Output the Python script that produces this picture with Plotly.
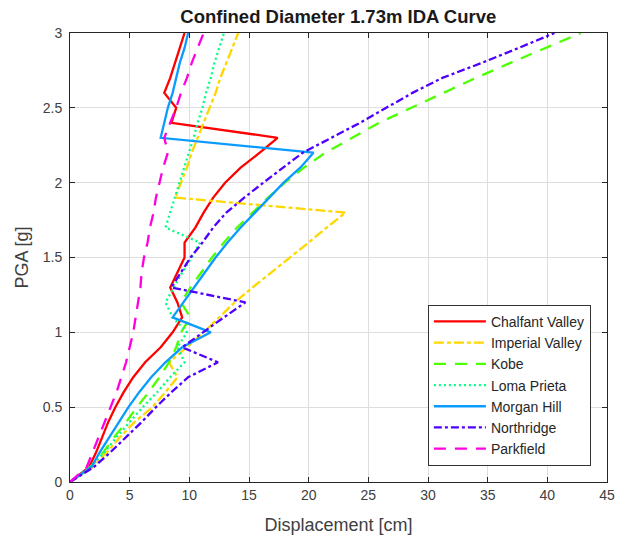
import plotly.graph_objects as go

pga = [0.0, 0.1, 0.2, 0.3, 0.4, 0.5, 0.6, 0.7, 0.8, 0.9, 1.0, 1.1, 1.2, 1.3, 1.4, 1.5,
       1.6, 1.7, 1.8, 1.9, 2.0, 2.1, 2.2, 2.3, 2.4, 2.5, 2.6, 2.7, 2.8, 2.9, 3.0]

chalfant_valley = [0, 1.6, 2.2, 2.7, 3.2, 3.8, 4.5, 5.3, 6.3, 7.6, 8.6, 9.4, 9.0, 8.4, 9.0, 9.6,
                   9.6, 10.5, 11.2, 12.0, 13.0, 14.3, 15.9, 17.4, 8.5, 8.9, 7.9, 8.4, 8.8, 9.2, 9.6]
imperial_valley = [0, 1.9, 3.1, 4.2, 5.4, 6.9, 8.0, 9.0, 8.3, 9.8, 11.2, 12.5, 13.8, 15.3, 16.9, 18.5,
                   20.0, 21.5, 23.1, 8.8, 9.3, 9.8, 10.2, 10.7, 11.2, 11.7, 12.2, 12.6, 13.1, 13.6, 14.1]
kobe = [0, 1.7, 2.8, 3.7, 4.7, 5.6, 6.6, 7.5, 8.3, 8.9, 9.3, 10.1, 9.3, 10.1, 11.0, 11.9,
        12.9, 14.0, 15.3, 16.6, 18.0, 19.6, 21.4, 23.6, 25.9, 28.6, 31.3, 34.0, 36.9, 39.9, 42.8]
loma_prieta = [0, 1.7, 2.9, 3.9, 5.0, 6.1, 7.3, 8.4, 9.6, 9.0, 9.8, 8.6, 8.0, 8.7, 9.4, 10.2,
               10.9, 8.0, 8.4, 8.8, 9.2, 9.6, 10.0, 10.35, 10.7, 11.1, 11.4, 11.8, 12.1, 12.5, 12.9]
morgan_hill = [0, 1.8, 2.5, 3.3, 4.1, 4.9, 5.8, 6.8, 8.0, 9.4, 11.8, 8.6, 9.5, 10.4, 11.3, 12.2,
               13.2, 14.3, 15.5, 16.7, 17.9, 19.3, 20.4, 7.6, 7.9, 8.2, 8.6, 8.9, 9.2, 9.6, 9.9]
northridge = [0, 2.0, 3.4, 4.7, 6.0, 7.2, 8.5, 9.9, 12.4, 9.4, 11.1, 12.9, 14.7, 8.5, 9.3, 10.1,
              11.1, 12.0, 13.1, 14.6, 16.2, 17.8, 19.5, 21.9, 24.3, 26.5, 28.7, 31.2, 34.5, 37.6, 40.6]
parkfield = [0, 1.4, 1.9, 2.4, 2.9, 3.4, 3.9, 4.3, 4.7, 5.0, 5.3, 5.5, 5.7, 5.9, 6.0, 6.2,
             6.5, 6.7, 7.0, 7.2, 7.5, 7.8, 8.2, 7.9, 8.4, 8.9, 9.3, 9.8, 10.2, 10.7, 11.2]

names = ["Chalfant Valley", "Imperial Valley", "Kobe", "Loma Prieta", "Morgan Hill", "Northridge", "Parkfield"]
series = [chalfant_valley, imperial_valley, kobe, loma_prieta, morgan_hill, northridge, parkfield]
colors = ["#FF0000", "#FFD700", "#4DFF00", "#00FF80", "#0A9BFF", "#5000FF", "#FF00E0"]
dashes = ["solid", "10px,3px,4px,3px", "12px,9px", "2px,3px", "solid", "8px,3px,3px,3px", "12px,9px"]

fig = go.Figure()
for n, s, c, d in zip(names, series, colors, dashes):
    fig.add_trace(go.Scatter(x=s, y=pga, mode="lines", name=n,
                             line=dict(color=c, width=2.3, dash=d)))

font_family = "Liberation Sans, Arial, sans-serif"
axis_common = dict(showgrid=True, gridcolor="#dedede", gridwidth=1,
                   showline=True, linecolor="#262626", linewidth=1, mirror="allticks",
                   ticks="inside", ticklen=5, tickcolor="#262626",
                   tickfont=dict(family=font_family, size=14, color="#404040"),
                   zeroline=False, automargin=False)

fig.update_layout(
    width=630, height=538,
    margin=dict(l=70, r=23, t=33, b=56),
    paper_bgcolor="white", plot_bgcolor="white",
    title=dict(text="<b>Confined Diameter 1.73m IDA Curve</b>", x=0.537, xanchor="center",
               y=0.970, yanchor="middle",
               font=dict(family=font_family, size=18.5, color="#1a1a1a")),
    xaxis=dict(range=[0, 45], tickvals=[0, 5, 10, 15, 20, 25, 30, 35, 40, 45],
               title=dict(text="Displacement [cm]", standoff=16,
                          font=dict(family=font_family, size=18, color="#404040")),
               **axis_common),
    yaxis=dict(range=[0, 3], tickvals=[0, 0.5, 1, 1.5, 2, 2.5, 3],
               ticktext=["0", "0.5", "1", "1.5", "2", "2.5", "3"],
               ticklabelstandoff=4,
               title=dict(text="PGA [g]", standoff=9,
                          font=dict(family=font_family, size=18, color="#404040")),
               **axis_common),
    legend=dict(x=0.97, y=0.036, xanchor="right", yanchor="bottom",
                bgcolor="white", bordercolor="#333333", borderwidth=1,
                font=dict(family=font_family, size=14, color="#262626"),
                tracegroupgap=0, itemwidth=52),
    showlegend=True,
)

fig.write_html("out.html", config={"displayModeBar": False},
               post_script="document.body.style.margin='0';")
